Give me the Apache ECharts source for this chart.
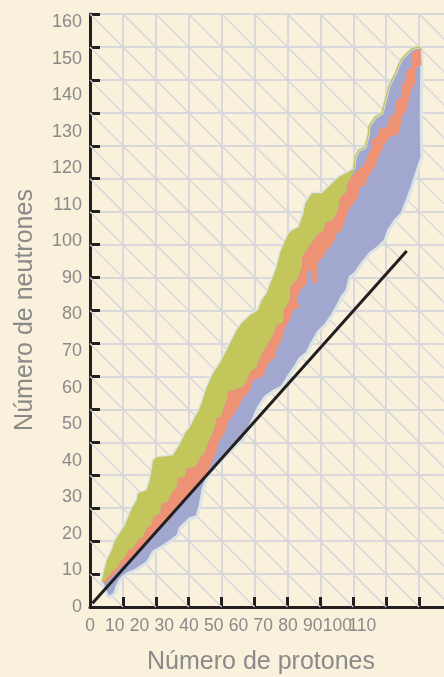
<!DOCTYPE html>
<html>
<head>
<meta charset="utf-8">
<script src="https://cdn.jsdelivr.net/npm/echarts@6/dist/echarts.min.js"></script>
<style>
  html, body { margin: 0; padding: 0; background: #f9f1dc; }
  #chart { width: 444px; height: 677px; }
</style>
</head>
<body>
<div id="chart"></div>
<script>
// Tick labels shown along each axis
const protonTicks = [0, 10, 20, 30, 40, 50, 60, 70, 80, 90, 100, 110];
const neutronTicks = [0, 10, 20, 30, 40, 50, 60, 70, 80, 90, 100, 110, 120, 130, 140, 150, 160];

// Upper (neutron-rich) edge of the nuclide band, [Z, N], where it borders the green zone
const bandTopGreen = [
  [4.7, 7.1], [6.8, 12.8], [8.8, 15.5], [10.1, 18.2], [12.1, 20.2], [14.1, 22.4], [15.4, 24.5],
  [16.9, 27.0], [18.9, 29.2], [19.4, 31.1], [22.9, 31.9], [24.2, 34.7], [24.9, 37.4], [25.5, 40.1],
  [27.0, 41.0], [31.0, 41.2], [33.5, 41.5], [35.6, 43.7], [37.1, 45.6], [38.4, 47.5], [40.4, 49.2],
  [42.4, 51.9], [43.6, 53.3], [45.1, 55.7], [47.2, 60.1], [49.7, 63.9], [52.5, 66.7], [55.2, 70.2],
  [57.3, 73.0], [59.3, 75.7], [61.3, 77.6], [62.6, 78.4], [64.7, 79.8], [67.9, 81.2], [69.4, 83.9],
  [71.4, 85.8], [73.4, 89.4], [75.4, 92.9], [76.8, 96.8], [78.0, 98.9], [80.3, 102.2], [81.6, 103.0],
  [84.3, 103.9], [86.3, 107.7], [87.0, 110.4], [89.7, 113.2], [93.7, 113.2], [96.4, 114.9],
  [100.5, 117.6], [104.5, 119.0], [106.6, 120.0]
];
// Upper edge beyond the green zone, up to the heaviest nuclides
const bandTopHeavy = [
  [107.2, 123.1], [108.6, 124.9], [111.2, 125.8], [112.6, 129.5], [112.6, 131.3], [115.3, 134.0],
  [118.0, 135.0], [119.3, 138.6], [120.7, 142.2], [122.0, 144.1], [123.4, 145.9], [124.7, 148.2],
  [126.1, 150.0], [128.1, 151.4], [130.1, 152.7], [132.8, 153.2], [134.1, 152.5]
];
// Lower (proton-rich) edge, from the heavy tip back down to the light end
const bandBottom = [
  [134.1, 147.7], [133.9, 138.6], [133.9, 131.3], [134.1, 123.1], [132.8, 120.4], [130.1, 114.9],
  [128.1, 111.2], [126.1, 107.7], [123.4, 105.8], [120.7, 103.0], [119.3, 100.3], [116.7, 98.5],
  [113.3, 96.8], [109.9, 94.0], [107.2, 91.3], [105.2, 90.3], [103.8, 86.6], [101.8, 84.8],
  [99.8, 82.1], [97.8, 79.8], [95.1, 77.1], [92.1, 75.1], [89.6, 72.1], [87.6, 69.4], [84.8, 68.0],
  [82.8, 65.6], [80.2, 63.1], [77.6, 60.2], [74.1, 59.0], [70.7, 57.4], [68.1, 54.7], [66.1, 51.6],
  [64.2, 48.9], [61.8, 45.6], [58.7, 43.8], [56.0, 42.0], [53.3, 40.4], [49.7, 37.9], [47.5, 35.6],
  [45.7, 32.2], [44.4, 27.4], [43.1, 24.6], [40.4, 24.2], [38.4, 22.9], [36.4, 21.5], [35.6, 19.6],
  [33.0, 18.2], [29.0, 16.4], [25.5, 15.0], [24.2, 13.3], [22.9, 12.0], [20.2, 10.9], [18.2, 10.0],
  [15.4, 9.2], [13.3, 8.2], [12.1, 7.3], [10.8, 5.5], [10.1, 3.8], [8.1, 2.7], [6.8, 3.2],
  [6.1, 4.6], [5.3, 5.9]
];
// Border between the green and salmon zones, heavy end first
const greenEdge = [
  [106.6, 119.0], [105.2, 117.2], [103.8, 115.3], [103.8, 113.5], [101.1, 112.1], [100.5, 109.4],
  [99.8, 107.7], [97.8, 105.8], [95.1, 105.0], [94.4, 103.0], [92.4, 102.2], [90.4, 100.3],
  [88.4, 98.5], [87.0, 96.8], [85.7, 95.7], [85.7, 93.0], [83.6, 89.4], [80.9, 87.5], [80.9, 83.9],
  [78.2, 81.2], [78.2, 77.9], [75.6, 77.1], [74.8, 75.7], [73.5, 73.8], [71.4, 71.3], [69.5, 69.4],
  [68.3, 67.5], [67.4, 65.6], [64.7, 64.2], [63.4, 62.0], [61.8, 60.2], [59.3, 59.6], [55.8, 58.8],
  [55.2, 56.5], [53.7, 53.8], [53.2, 52.2], [51.2, 51.6], [50.1, 48.1], [48.5, 46.1], [46.5, 42.4],
  [44.4, 40.7], [42.4, 38.3], [39.1, 37.9], [38.4, 35.6], [35.6, 35.2], [35.0, 32.8], [33.0, 31.1],
  [31.5, 28.7], [29.0, 28.4], [28.3, 25.6], [25.5, 24.6], [24.9, 22.4], [22.9, 21.5], [21.4, 19.2],
  [19.4, 18.2], [17.4, 16.1], [15.4, 15.5], [14.1, 13.7], [12.1, 12.3], [10.8, 10.6], [8.8, 9.6],
  [7.3, 8.2], [5.3, 6.8]
];
// Upper border of the salmon zone above the green zone, heavy tip first
const salmonTop = [
  [133.6, 152.6], [132.0, 152.4], [130.0, 151.4], [130.0, 147.7], [128.0, 146.8], [127.3, 144.1],
  [125.9, 142.7], [125.9, 139.5], [123.9, 138.6], [123.2, 135.0], [121.2, 134.0], [119.9, 131.3],
  [117.2, 130.9], [115.8, 128.6], [113.8, 127.7], [113.8, 125.4], [112.4, 124.0], [111.1, 121.3],
  [108.3, 119.5]
];
// Lower border of the salmon zone (towards the lavender zone), heavy tip first
const salmonBottom = [
  [134.0, 148.2], [132.0, 147.7], [131.3, 143.2], [129.3, 140.4], [128.0, 135.9], [125.9, 134.0],
  [125.3, 130.4], [123.9, 129.0], [121.2, 128.6], [119.2, 126.8], [117.2, 124.0], [115.2, 120.4],
  [113.1, 118.5], [111.8, 116.7], [111.1, 115.3], [109.1, 114.9], [108.4, 112.1], [106.4, 110.3],
  [105.1, 109.4], [103.0, 105.8], [101.7, 103.0], [99.7, 102.1], [98.3, 99.4], [95.6, 97.6],
  [94.3, 95.7], [92.1, 94.3], [91.7, 92.1], [91.6, 88.5], [90.1, 88.5], [88.9, 92.6], [87.6, 91.3],
  [87.6, 88.5], [84.8, 86.6], [83.5, 83.9], [84.8, 82.1], [82.0, 81.2], [80.8, 78.4], [78.8, 76.6],
  [77.5, 73.0], [75.6, 70.8], [74.8, 68.4], [71.9, 66.4], [69.9, 63.1], [65.9, 62.0], [64.7, 59.3],
  [61.8, 57.1], [59.8, 54.4], [57.8, 52.4], [55.8, 50.5], [54.6, 47.8], [52.1, 45.1], [50.9, 42.3],
  [49.3, 39.6], [47.3, 36.3], [43.8, 33.8], [41.7, 31.9], [39.1, 29.7], [36.4, 27.8], [34.3, 26.0],
  [32.3, 23.7], [29.6, 22.4], [27.6, 21.0], [25.6, 19.2], [23.6, 18.2], [21.5, 16.9], [18.9, 15.0],
  [16.2, 13.2], [13.5, 11.4], [10.8, 9.6], [8.8, 8.2], [6.8, 6.8], [5.4, 6.4]
];
// Straight reference line
const referenceLine = [[1, 1], [128, 97.4]];

// Polygons assembled from the edges
const bandOutline = bandTopGreen.concat(bandTopHeavy, bandBottom);
const greenZone = bandTopGreen.concat(greenEdge);
const salmonZone = salmonTop.concat(greenEdge.slice(1), salmonBottom.slice().reverse());

// Diagonal hatching constants on the square background grid (x + y = c)
const hatchSteps = [];
for (let c = 10; c <= 290; c += 10) hatchSteps.push(c);

const GRID_X_MAX = 110;
const GRID_Y_MAX = 180;

const LABEL_GREY = '#8a8a8a';
const AXIS_BLACK = '#231f20';
const GRID_GREY = '#d9d8dc';
const HATCH_GREY = '#d5d5dc';
const LAV = '#a2a7d0';
const GREEN = '#c3c75b';
const SALMON = '#ee9276';
const HALO = '#dbe4e4';
const FONT = '"Liberation Sans", Arial, sans-serif';

function area(name, points, fill, z, stroke, lineWidth) {
  return {
    type: 'custom', name, xAxisIndex: 0, yAxisIndex: 0, z, silent: true,
    data: [0],
    renderItem: (params, api) => ({
      type: 'polygon',
      shape: { points: points.map(p => api.coord(p)) },
      style: { fill, stroke: stroke || null, lineWidth: lineWidth || 0, lineJoin: 'round' }
    })
  };
}

const chart = echarts.init(document.getElementById('chart'), null, { renderer: 'canvas' });

chart.setOption({
  backgroundColor: '#f9f1dc',
  animation: false,
  grid: { left: 90, right: -8, top: 14, bottom: 70, outerBoundsMode: 'none', containLabel: false },
  xAxis: [
    {
      type: 'value', min: 0, max: 146.3, interval: 10, position: 'bottom',
      axisLine: { show: false }, axisTick: { show: false }, splitLine: { show: false },
      axisLabel: {
        margin: 10, color: LABEL_GREY, fontSize: 17.5, fontFamily: FONT, hideOverlap: false,
        formatter: v => (protonTicks.indexOf(v) >= 0 ? String(v) : '')
      }
    },
    {
      type: 'value', min: 0, max: GRID_X_MAX, interval: 10, position: 'bottom',
      axisLine: { show: true, onZero: false, lineStyle: { color: AXIS_BLACK, width: 3 } },
      axisTick: { show: true, inside: true, length: 10, lineStyle: { color: AXIS_BLACK, width: 3 } },
      splitLine: { show: true, lineStyle: { color: GRID_GREY, width: 2 } },
      axisLabel: { show: false }
    }
  ],
  yAxis: [
    {
      type: 'value', min: 0, max: 162.2, interval: 10, position: 'left',
      axisLine: { show: false }, axisTick: { show: false }, splitLine: { show: false },
      axisLabel: {
        margin: 8, color: LABEL_GREY, fontSize: 18, fontFamily: FONT, hideOverlap: false,
        formatter: v => (neutronTicks.indexOf(v) >= 0 ? String(v) : '')
      }
    },
    {
      type: 'value', min: 0, max: GRID_Y_MAX, interval: 10, position: 'left',
      axisLine: { show: true, onZero: false, lineStyle: { color: AXIS_BLACK, width: 3 } },
      axisTick: { show: true, inside: true, length: 10, lineStyle: { color: AXIS_BLACK, width: 3 } },
      splitLine: { show: true, lineStyle: { color: GRID_GREY, width: 2 } },
      axisLabel: { show: false }
    }
  ],
  graphic: [
    {
      type: 'text', x: 261, y: 662, silent: true,
      style: { text: 'Número de protones', fill: LABEL_GREY, fontSize: 25, fontFamily: FONT, align: 'center', verticalAlign: 'middle' }
    },
    {
      type: 'text', x: 25, y: 310, rotation: Math.PI / 2, silent: true,
      style: { text: 'Número de neutrones', fill: LABEL_GREY, fontSize: 25, fontFamily: FONT, align: 'center', verticalAlign: 'middle' }
    }
  ],
  series: [
    {
      type: 'custom', name: 'hatch', xAxisIndex: 1, yAxisIndex: 1, z: 1, silent: true,
      data: hatchSteps,
      renderItem: (params, api) => {
        const c = api.value(0);
        const x0 = Math.max(0, c - GRID_Y_MAX);
        const x1 = Math.min(GRID_X_MAX, c);
        if (x1 <= x0) return null;
        const a = api.coord([x0, c - x0]);
        const b = api.coord([x1, c - x1]);
        return {
          type: 'line',
          shape: { x1: a[0], y1: a[1], x2: b[0], y2: b[1] },
          style: { stroke: HATCH_GREY, lineWidth: 1.3 }
        };
      }
    },
    area('band', bandOutline, LAV, 3, HALO, 3),
    area('green', greenZone, GREEN, 4),
    area('salmon', salmonZone, SALMON, 5),
    {
      type: 'line', name: 'edge', xAxisIndex: 0, yAxisIndex: 0, z: 6, silent: true,
      data: [bandTopGreen[bandTopGreen.length - 1]].concat(bandTopHeavy),
      showSymbol: false, symbol: 'none',
      lineStyle: { color: GREEN, width: 1.5 }
    },
    {
      type: 'line', name: 'referencia', xAxisIndex: 0, yAxisIndex: 0, z: 7, silent: true,
      data: referenceLine, showSymbol: false, symbol: 'none',
      lineStyle: { color: AXIS_BLACK, width: 3 }
    }
  ]
});
</script>
</body>
</html>
